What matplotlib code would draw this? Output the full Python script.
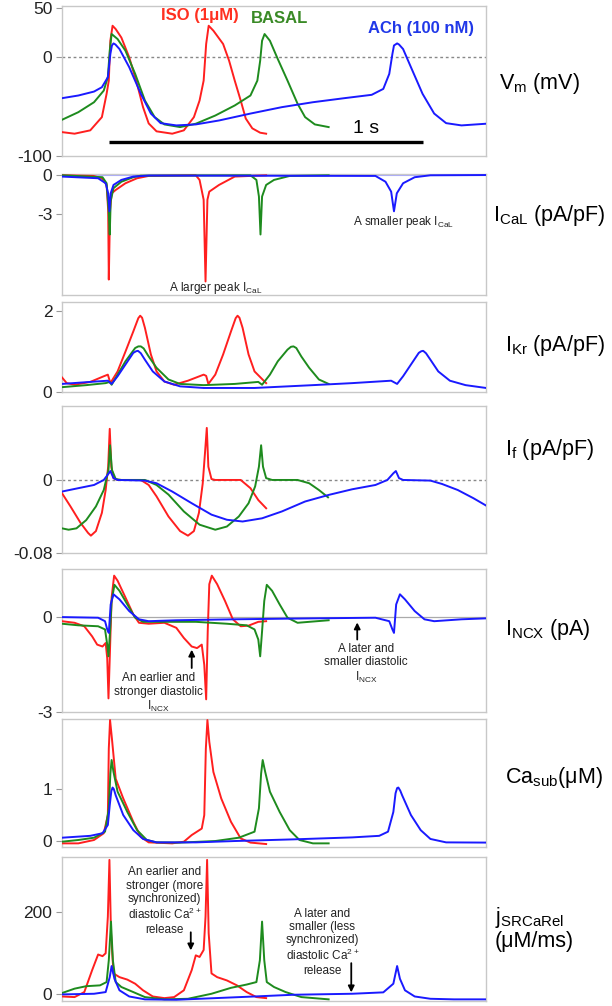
import matplotlib
matplotlib.use("Agg")
import matplotlib.pyplot as plt

plt.rcParams['font.family'] = ['Liberation Sans', 'DejaVu Sans']
plt.rcParams['mathtext.default'] = 'regular'

W, H = 612, 1006

RED = '#ff1f1f'
GREEN = '#1e8b1e'
BLUE = '#1a1aff'

# ---------------- data (time in ms) ----------------
# membrane potential (mV)
vm_iso_t = [0, 40, 90, 127, 142, 149, 154, 161, 171, 189, 214, 239, 258, 276, 301, 351, 388, 420, 438, 451,
            459, 467, 482, 513, 532, 550, 569, 585, 606, 631, 650]
vm_iso = [-75.8, -77.4, -74, -60.6, -37, -23.6, 17, 32, 28.6, 20, 0, -27, -50.5, -67, -75, -77.4, -74, -60.6,
          -43.8, -23.6, 13.5, 32, 27, 13.5, -3.4, -23.6, -43.8, -62, -72, -76.4, -77.4]
vm_bas_t = [0, 52, 102, 133, 146, 152, 158, 177, 202, 233, 264, 295, 326, 376, 426, 488, 550, 600, 622, 631,
            637, 645, 662, 687, 718, 750, 774, 805, 849]
vm_bas = [-63.3, -55.6, -45.5, -33.7, -20, 6.7, 23.6, 18.5, 6.7, -16.8, -43.8, -60.6, -68, -70.7, -67.3, -59,
          -48.8, -38.7, -23.6, -3.4, 16.8, 23.6, 16.8, -1.7, -23.6, -47, -60.6, -68, -70.7]
vm_ach_t = [0, 52, 102, 127, 146, 154, 159, 164, 170, 183, 214, 251, 283, 314, 364, 426, 500, 600, 700, 799, 899,
            986, 1023, 1042, 1052, 1057, 1067, 1073, 1086, 1111, 1148, 1185, 1223, 1272, 1350]
vm_ach = [-41.4, -38.7, -34.7, -30.3, -20.2, 3.4, 12, 14.1, 13, 8.4, -10, -37, -57, -66.7, -69, -68, -64, -57,
          -50.5, -45.5, -41.4, -38, -32, -16.8, 3.4, 12, 14.1, 13, 8.4, -10, -37, -57, -66.7, -69, -67.3]

# I_CaL (pA/pF)
ical_iso_t = [0, 100, 127, 142, 147, 149, 153, 158, 171, 202, 239, 276, 426, 438, 451, 457, 463, 469, 500, 550, 650]
ical_iso = [0, -0.05, -0.23, -0.75, -2.7, -8.1, -2.7, -1.4, -1.14, -0.62, -0.23, -0.05, 0, -0.36, -1.9, -8.25,
            -1.9, -1.27, -0.75, -0.1, 0]
ical_bas_t = [0, 129, 142, 149, 152, 155, 164, 189, 227, 251, 600, 619, 627, 632, 637, 650, 675, 725, 849]
ical_bas = [0, -0.15, -0.62, -2.9, -4.6, -2.0, -1.0, -0.5, -0.15, -0.03, 0, -0.36, -1.65, -4.6, -1.65, -0.75,
            -0.36, -0.05, 0]
ical_ach_t = [0, 115, 139, 147, 151, 155, 164, 189, 227, 276, 998, 1030, 1048, 1057, 1066, 1086, 1123, 1173, 1350]
ical_ach = [-0.1, -0.23, -0.62, -1.4, -2.8, -1.4, -0.75, -0.36, -0.1, -0.02, -0.05, -0.5, -1.27, -2.8, -1.4,
            -0.62, -0.15, 0, 0.02]

# I_Kr (pA/pF)
ikr_iso_t = [0, 15, 40, 90, 133, 146, 154, 177, 202, 227, 243, 249, 255, 264, 283, 301, 326, 357, 401, 451, 459,
             466, 488, 513, 538, 553, 559, 565, 575, 594, 613, 650]
ikr_iso = [0.36, 0.22, 0.18, 0.25, 0.39, 0.43, 0.22, 0.51, 1.0, 1.5, 1.83, 1.89, 1.84, 1.59, 0.93, 0.51, 0.26,
           0.18, 0.28, 0.43, 0.4, 0.2, 0.43, 0.93, 1.5, 1.83, 1.89, 1.84, 1.59, 0.93, 0.51, 0.22]
ikr_bas_t = [0, 77, 139, 152, 158, 177, 202, 233, 243, 251, 260, 276, 301, 339, 376, 451, 550, 625, 637, 662,
             687, 718, 729, 737, 746, 762, 787, 818, 849]
ikr_bas = [0.12, 0.17, 0.22, 0.25, 0.18, 0.43, 0.76, 1.09, 1.13, 1.13, 1.08, 0.88, 0.6, 0.31, 0.2, 0.17, 0.2,
           0.25, 0.18, 0.43, 0.76, 1.05, 1.12, 1.13, 1.09, 0.88, 0.6, 0.31, 0.2]
ikr_ach_t = [0, 90, 146, 158, 177, 202, 227, 236, 242, 251, 264, 289, 326, 376, 451, 613, 799, 924, 1048, 1067,
             1086, 1111, 1136, 1144, 1150, 1159, 1173, 1198, 1235, 1285, 1350]
ikr_ach = [0.2, 0.25, 0.28, 0.2, 0.39, 0.68, 0.97, 1.01, 1.02, 0.96, 0.8, 0.51, 0.26, 0.14, 0.1, 0.1, 0.17, 0.22,
           0.28, 0.2, 0.39, 0.68, 0.97, 1.01, 1.02, 0.96, 0.8, 0.51, 0.28, 0.17, 0.1]

# I_f (pA/pF)
if_iso_t = [0, 27, 59, 83, 92, 108, 127, 139, 147, 152, 157, 164, 177, 251, 276, 301, 339, 376, 401, 420, 436,
            448, 456, 461, 466, 476, 488, 569, 600, 625, 650]
if_iso = [-0.0145, -0.029, -0.047, -0.058, -0.061, -0.056, -0.036, -0.011, 0.0145, 0.056, 0.0145, 0.002, 0, 0,
          -0.0055, -0.018, -0.04, -0.056, -0.061, -0.056, -0.036, -0.004, 0.033, 0.057, 0.0145, 0.001, 0, 0,
          -0.009, -0.022, -0.031]
if_bas_t = [0, 21, 46, 77, 108, 133, 148, 153, 159, 171, 189, 264, 301, 339, 388, 438, 488, 525, 563, 594, 615,
            627, 634, 640, 650, 669, 750, 787, 818, 847]
if_bas = [-0.053, -0.0545, -0.053, -0.044, -0.029, -0.011, 0.011, 0.038, 0.011, 0.001, 0, 0, -0.0055, -0.016,
          -0.0345, -0.049, -0.0545, -0.051, -0.04, -0.0255, -0.007, 0.0145, 0.038, 0.0145, 0.002, 0, 0, -0.0036,
          -0.011, -0.019]
if_ach_t = [0, 52, 102, 133, 149, 154, 164, 177, 264, 301, 351, 413, 476, 525, 575, 637, 700, 774, 849, 924, 998,
            1036, 1055, 1063, 1073, 1086, 1173, 1210, 1260, 1310, 1350]
if_ach = [-0.0127, -0.009, -0.0055, 0, 0.0073, 0.0098, 0.002, 0, -0.0007, -0.0036, -0.0127, -0.0255, -0.038,
          -0.0436, -0.0455, -0.042, -0.0345, -0.0236, -0.0164, -0.0102, -0.0055, 0, 0.0073, 0.0098, 0.002, 0,
          -0.0007, -0.0044, -0.011, -0.02, -0.028]

# I_NCX (pA)
incx_iso_t = [0, 40, 71, 96, 112, 129, 139, 144, 148, 153, 158, 166, 177, 202, 227, 245, 276, 326, 364, 388, 413,
              430, 445, 453, 459, 464, 469, 477, 494, 519, 544, 569, 594, 625, 650]
incx_iso = [-0.13, -0.18, -0.29, -0.61, -0.87, -0.93, -0.82, -1.3, -2.57, -0.98, 0.62, 1.31, 1.15, 0.62, 0.085,
            -0.18, -0.21, -0.18, -0.34, -0.66, -0.93, -0.98, -0.87, -1.51, -2.6, -0.45, 1.04, 1.31, 1.04, 0.51,
            -0.07, -0.29, -0.27, -0.15, -0.13]
incx_bas_t = [0, 52, 115, 137, 144, 148, 153, 158, 167, 183, 208, 233, 258, 301, 426, 525, 588, 613, 625, 631,
              637, 644, 652, 669, 693, 718, 750, 787, 849]
incx_bas = [-0.21, -0.26, -0.29, -0.39, -0.87, -1.24, -0.45, 0.51, 1.02, 0.83, 0.4, -0.02, -0.15, -0.15, -0.15,
            -0.21, -0.26, -0.39, -0.71, -1.24, -0.45, 0.51, 1.02, 0.83, 0.4, -0.02, -0.18, -0.15, -0.1]
incx_ach_t = [0, 115, 137, 144, 149, 155, 164, 183, 214, 245, 276, 364, 550, 799, 998, 1042, 1052, 1057, 1064,
              1076, 1092, 1123, 1154, 1185, 1272, 1350]
incx_ach = [0, -0.02, -0.13, -0.39, -0.5, 0.4, 0.72, 0.56, 0.19, -0.07, -0.13, -0.1, -0.07, -0.04, -0.02, -0.13,
            -0.39, -0.5, 0.4, 0.72, 0.56, 0.19, -0.07, -0.13, -0.07, -0.04]

# Ca_sub (uM)
ca_iso_t = [0, 52, 102, 133, 146, 149, 153, 159, 171, 195, 227, 251, 276, 351, 388, 413, 445, 453, 458, 463, 469,
            482, 507, 538, 569, 600, 650]
ca_iso = [-0.045, -0.045, 0.02, 0.15, 0.5, 1.78, 2.33, 1.97, 1.2, 0.82, 0.37, 0.08, -0.026, -0.045, -0.013, 0.115,
          0.24, 0.5, 1.78, 2.33, 1.91, 1.33, 0.82, 0.37, 0.05, -0.03, -0.058]
ca_bas_t = [0, 52, 102, 137, 149, 154, 158, 164, 177, 208, 239, 270, 301, 376, 488, 563, 613, 627, 634, 639, 647,
            662, 693, 725, 756, 799, 849]
ca_bas = [-0.013, 0.02, 0.064, 0.18, 0.63, 1.3, 1.56, 1.33, 0.95, 0.56, 0.21, 0.02, -0.026, -0.03, 0, 0.064,
          0.18, 0.63, 1.3, 1.56, 1.33, 0.95, 0.56, 0.21, 0.02, -0.045, -0.045]
ca_ach_t = [0, 90, 129, 146, 152, 157, 161, 165, 171, 195, 227, 258, 301, 426, 550, 737, 924, 1010, 1038, 1055,
            1062, 1067, 1071, 1077, 1083, 1111, 1142, 1173, 1223, 1350]
ca_ach = [0.064, 0.1, 0.15, 0.31, 0.69, 0.96, 1.03, 1.0, 0.88, 0.5, 0.21, 0.04, -0.026, -0.026, 0, 0.032, 0.07,
          0.1, 0.18, 0.56, 0.92, 1.02, 1.03, 0.97, 0.88, 0.5, 0.21, 0.04, -0.026, -0.03]

# j_SRCaRel (uM/ms)
jrel_iso_t = [0, 40, 71, 96, 115, 129, 139, 146, 151, 156, 164, 183, 208, 233, 258, 289, 326, 357, 388, 413, 426,
              438, 451, 457, 462, 467, 476, 494, 525, 557, 588, 619, 650]
jrel_iso = [-5, -6.5, 5.7, 59, 97, 93, 100, 189, 327, 149, 51, 42, 36, 26, 10, -5, -9, -6.5, 10, 59, 95, 91, 108,
            189, 327, 149, 51, 42, 34, 22, 5.7, -6.5, -9]
jrel_bas_t = [0, 40, 77, 121, 142, 149, 156, 162, 171, 189, 227, 264, 326, 401, 476, 538, 588, 619, 630, 637, 644,
              652, 675, 712, 762, 849]
jrel_bas = [3.3, 14, 20, 22, 30, 83, 177, 83, 30, 18, 5.7, -6.5, -12, -10.6, 1.6, 16, 24, 30, 83, 177, 83, 30, 18,
            5.7, -6.5, -12]
jrel_ach_t = [0, 102, 139, 152, 158, 167, 183, 214, 264, 364, 488, 613, 737, 924, 1023, 1055, 1067, 1076, 1092,
              1123, 1173, 1248, 1350]
jrel_ach = [0, 1.6, 5.7, 42, 69, 38, 10, -5, -12, -13, -9, -5, -0.8, 1.6, 5, 26, 69, 38, 10, -5, -10.6, -12, -12]

# axis settings
t_range = (0, 1350)
ylims = [(-100, 52), (-9.3, 0.1), (0, 2.23), (-0.08, 0.081), (-3, 1.52), (-0.115, 2.35), (-16, 334)]
yticks = [[50, 0, -100], [0, -3], [2, 0], [0, -0.08], [0, -3], [1, 0], [200, 0]]
ytick_labels = [['50', '0', '-100'], ['0', '-3'], ['2', '0'], ['0', '-0.08'], ['0', '-3'], ['1', '0'], ['200', '0']]
scalebar_t = [150, 1150]
scalebar_v = -86

# panel boxes in pixels (top, bottom)
boxes = [(6, 156), (174, 295), (302, 392), (406, 553), (569, 712), (719, 847), (857, 1001)]
x0, x1 = 62, 486

series = [
    [(vm_iso_t, vm_iso), (vm_bas_t, vm_bas), (vm_ach_t, vm_ach)],
    [(ical_iso_t, ical_iso), (ical_bas_t, ical_bas), (ical_ach_t, ical_ach)],
    [(ikr_iso_t, ikr_iso), (ikr_bas_t, ikr_bas), (ikr_ach_t, ikr_ach)],
    [(if_iso_t, if_iso), (if_bas_t, if_bas), (if_ach_t, if_ach)],
    [(incx_iso_t, incx_iso), (incx_bas_t, incx_bas), (incx_ach_t, incx_ach)],
    [(ca_iso_t, ca_iso), (ca_bas_t, ca_bas), (ca_ach_t, ca_ach)],
    [(jrel_iso_t, jrel_iso), (jrel_bas_t, jrel_bas), (jrel_ach_t, jrel_ach)],
]

fig = plt.figure(figsize=(W / 100, H / 100), dpi=100)
axes = []
for i, (top, bot) in enumerate(boxes):
    ax = fig.add_axes([x0 / W, 1 - bot / H, (x1 - x0) / W, (bot - top) / H])
    # zero reference lines
    if i in (0, 3):
        ax.axhline(0, color='#888888', lw=1, ls=(0, (2, 2)), zorder=1)
    elif i == 1:
        ax.axhline(0, color='#a8a8ff', lw=0.8, zorder=1)
    elif i == 4:
        ax.axhline(0, color='#aaaaaa', lw=0.9, zorder=1)
    for (t, y), c in zip(series[i], [RED, GREEN, BLUE]):
        ax.plot(t, y, color=c, lw=1.4, zorder=3, solid_joinstyle='round')
    ax.set_xlim(*t_range)
    ax.set_ylim(*ylims[i])
    ax.set_xticks([])
    ax.set_yticks(yticks[i])
    ax.set_yticklabels(ytick_labels[i], fontsize=12.5, color='#222222')
    ax.tick_params(axis='y', length=4, color='#999999', pad=3)
    for s in ax.spines.values():
        s.set_color('#c8c8c8')
        s.set_linewidth(1)
    axes.append(ax)

# panel 1 extras: condition labels and scale bar
ax = axes[0]
ax.text(314, 42, 'ISO (1\u03bcM)', color='#ff3020', fontsize=12, fontweight='bold', va='center')
ax.text(600, 39, 'BASAL', color='#3a8a26', fontsize=12, fontweight='bold', va='center')
ax.text(975, 29, 'ACh (100 nM)', color='#2038e8', fontsize=12, fontweight='bold', va='center')
ax.plot(scalebar_t, [scalebar_v, scalebar_v], color='black', lw=2.4, solid_capstyle='butt')
ax.text(968, -72, '1 s', fontsize=14, ha='center', va='center')

# annotations
small = 8.5
axes[1].text(489, -8.74, 'A larger peak I$_{CaL}$', fontsize=small, ha='center', va='center', color='#222222')
axes[1].text(1086, -3.63, 'A smaller peak I$_{CaL}$', fontsize=small, ha='center', va='center', color='#222222')

arrow = dict(arrowstyle='-|>', color='black', lw=1.3, mutation_scale=9, shrinkA=0, shrinkB=0)
axes[4].annotate('', xy=(413, -1.03), xytext=(413, -1.61), arrowprops=arrow)
axes[4].text(308, -2.41, 'An earlier and\nstronger diastolic\nI$_{NCX}$', fontsize=small, ha='center',
             va='center', linespacing=1.15, color='#222222')
axes[4].annotate('', xy=(940, -0.17), xytext=(940, -0.71), arrowprops=arrow)
axes[4].text(968, -1.48, 'A later and\nsmaller diastolic\nI$_{NCX}$', fontsize=small, ha='center',
             va='center', linespacing=1.15, color='#222222')

axes[6].annotate('', xy=(410, 107), xytext=(410, 151), arrowprops=arrow)
axes[6].text(327, 227, 'An earlier and\nstronger (more\nsynchronized)\ndiastolic Ca$^{2+}$\nrelease',
             fontsize=small, ha='center', va='center', linespacing=1.15, color='#222222')
axes[6].annotate('', xy=(921, 5), xytext=(921, 76), arrowprops=arrow)
axes[6].text(829, 127, 'A later and\nsmaller (less\nsynchronized)\ndiastolic Ca$^{2+}$\nrelease',
             fontsize=small, ha='center', va='center', linespacing=1.15, color='#222222')

# right-hand axis titles
big = 15.5
fig.text(499 / W, 1 - 83 / H, 'V$_m$ (mV)', fontsize=big, va='center')
fig.text(493 / W, 1 - 215 / H, 'I$_{CaL}$ (pA/pF)', fontsize=big, va='center')
fig.text(505 / W, 1 - 345 / H, 'I$_{Kr}$ (pA/pF)', fontsize=big, va='center')
fig.text(505 / W, 1 - 450 / H, 'I$_f$ (pA/pF)', fontsize=big, va='center')
fig.text(505 / W, 1 - 630 / H, 'I$_{NCX}$ (pA)', fontsize=big, va='center')
fig.text(505 / W, 1 - 778 / H, 'Ca$_{sub}$(\u03bcM)', fontsize=big, va='center')
fig.text(495 / W, 1 - 917 / H, 'j$_{SRCaRel}$', fontsize=big, va='center')
fig.text(495 / W, 1 - 942 / H, '(\u03bcM/ms)', fontsize=big, va='center')

fig.savefig('out.png', dpi=100)
